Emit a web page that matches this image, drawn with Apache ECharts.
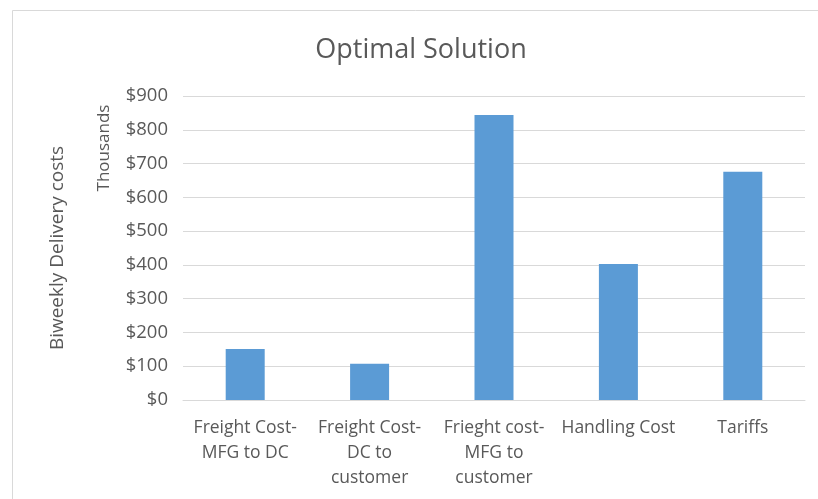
<!DOCTYPE html>
<html>
<head>
<meta charset="utf-8">
<script src="https://cdn.jsdelivr.net/npm/echarts@6/dist/echarts.min.js"></script>
<style>
  html, body { margin: 0; padding: 0; background: #ffffff; }
  #chart { width: 818px; height: 499px; }
</style>
</head>
<body>
<div id="chart"></div>
<script>
// Cost categories (x axis)
const categories = [
  'Freight Cost-\nMFG to DC',
  'Freight Cost-\nDC to\ncustomer',
  'Frieght cost-\nMFG to\ncustomer',
  'Handling Cost',
  'Tariffs'
];
// Biweekly delivery costs, in thousands of dollars
const costs = [151, 107, 844, 403, 676];
// Value axis range
const yMin = 0;
const yMax = 900;
const yStep = 100;

const textColor = '#595959';
const fontFamily = '"Open Sans", Lato, sans-serif';

const chart = echarts.init(document.getElementById('chart'), null, { renderer: 'canvas' });
chart.setOption({
  backgroundColor: '#ffffff',
  animation: false,
  graphic: [
    {
      // chart area frame
      type: 'rect',
      shape: { x: 12.5, y: 10.5, width: 830, height: 520 },
      style: { fill: 'none', stroke: '#d9d9d9', lineWidth: 1 },
      silent: true
    },
    {
      type: 'text',
      x: 421,
      y: 50,
      style: {
        text: 'Optimal Solution',
        fill: textColor,
        font: '27px ' + fontFamily,
        align: 'center',
        verticalAlign: 'middle'
      }
    },
    {
      // display-unit label of the value axis
      type: 'text',
      x: 104,
      y: 148,
      rotation: Math.PI / 2,
      style: {
        text: 'Thousands',
        fill: textColor,
        font: '17px ' + fontFamily,
        align: 'center',
        verticalAlign: 'middle'
      }
    }
  ],
  grid: { left: 183, right: 13, top: 96, bottom: 99, containLabel: false },
  xAxis: {
    type: 'category',
    data: categories,
    axisLine: { show: true, lineStyle: { color: '#d9d9d9', width: 1 } },
    axisTick: { show: false },
    axisLabel: {
      interval: 0,
      color: textColor,
      fontSize: 17.5,
      fontFamily: fontFamily,
      lineHeight: 25,
      margin: 16
    }
  },
  yAxis: {
    type: 'value',
    min: yMin,
    max: yMax,
    interval: yStep,
    name: 'Biweekly Delivery costs',
    nameLocation: 'middle',
    nameRotate: 90,
    nameGap: 116,
    nameTextStyle: { color: textColor, fontSize: 19, fontFamily: fontFamily },
    axisLine: { show: false },
    axisTick: { show: false },
    splitLine: { lineStyle: { color: '#d9d9d9', width: 1 } },
    axisLabel: {
      color: textColor,
      fontSize: 18.5,
      fontFamily: fontFamily,
      margin: 15,
      formatter: function (v) { return '$' + v; }
    }
  },
  series: [{
    type: 'bar',
    data: costs,
    barWidth: 39,
    itemStyle: { color: '#5b9bd5' }
  }]
});
</script>
</body>
</html>
